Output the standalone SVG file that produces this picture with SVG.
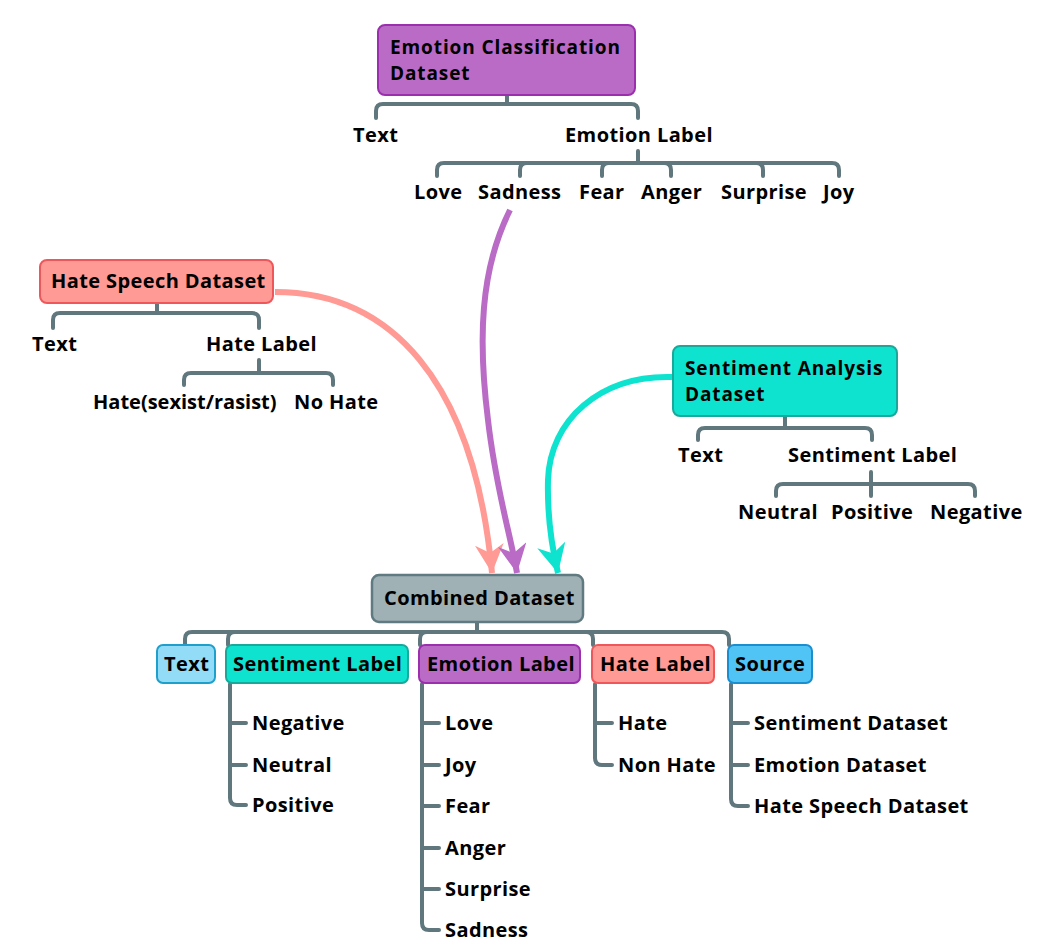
<svg xmlns="http://www.w3.org/2000/svg" width="1043" height="941" viewBox="0 0 1043 941">
<defs>
<style>
text{font-family:"Open Sans","DejaVu Sans",sans-serif;font-weight:700;font-size:20px;letter-spacing:0.4px;fill:#000}
text.title{font-size:19px;letter-spacing:0.9px}
.br{fill:none;stroke:#5f777d;stroke-width:4;stroke-linecap:round;stroke-linejoin:round}
.arr{fill:none;stroke-width:6}
.purple{fill:#b96bc6;stroke:#9b2fae;stroke-width:2}
.pink{fill:#ff9a94;stroke:#f0575a;stroke-width:2}
.teal{fill:#0de3cf;stroke:#1aa89b;stroke-width:2}
.grey{fill:#9fb1b5;stroke:#5f7a80;stroke-width:2.5}
.lblue{fill:#93dcf7;stroke:#1e9fcc;stroke-width:2}
.blue{fill:#50c4f5;stroke:#1b8ed0;stroke-width:2}
</style>
<marker id="mPink" viewBox="0 0 10 10" refX="10" refY="5" markerWidth="4.8" markerHeight="4.8" markerUnits="strokeWidth" orient="auto"><path d="M0,0 L10,5 L0,10 L3,5 Z" fill="#ff9a94"/></marker>
<marker id="mPurple" viewBox="0 0 10 10" refX="10" refY="5" markerWidth="4.8" markerHeight="4.8" markerUnits="strokeWidth" orient="auto"><path d="M0,0 L10,5 L0,10 L3,5 Z" fill="#b96bc6"/></marker>
<marker id="mTeal" viewBox="0 0 10 10" refX="10" refY="5" markerWidth="4.8" markerHeight="4.8" markerUnits="strokeWidth" orient="auto"><path d="M0,0 L10,5 L0,10 L3,5 Z" fill="#0de3cf"/></marker>
</defs>

<g id="connectors">
<!-- emotion tree -->
<path class="br" d="M507,95 V104 M376,118 V111 Q376,104 383,104 H631 Q638,104 638,111 V118"/>
<path class="br" d="M638,151 V163 M437,176 V170 Q437,163 444,163 H832 Q839,163 839,170 V176 M520,176 V170 Q520,163 527,163 M602,176 V170 Q602,163 609,163 M671,176 V170 Q671,163 664,163 M763,176 V170 Q763,163 756,163"/>
<!-- hate tree -->
<path class="br" d="M157,303 V313 M53,328 V320 Q53,313 60,313 H252 Q259,313 259,320 V328"/>
<path class="br" d="M259,360 V373 M184,385 V380 Q184,373 191,373 H326 Q333,373 333,380 V385"/>
<!-- sentiment tree -->
<path class="br" d="M785,416 V428 M698,440 V435 Q698,428 705,428 H865 Q872,428 872,435 V440"/>
<path class="br" d="M871,472 V496 M776,496 V491 Q776,484 783,484 H968 Q975,484 975,491 V496"/>
<!-- combined tree -->
<path class="br" d="M477,622 V632 M185,645 V639 Q185,632 192,632 H722 Q729,632 729,639 V645 M228,645 V639 Q228,632 235,632 M420,645 V639 Q420,632 427,632 M593,645 V639 Q593,632 586,632"/>
<path class="br" d="M230,684 V798 Q230,805 237,805 H246 M230,723 H246 M230,765 H246"/>
<path class="br" d="M422,684 V923 Q422,930 429,930 H439 M422,723 H439 M422,765 H439 M422,806 H439 M422,848 H439 M422,889 H439"/>
<path class="br" d="M595,684 V758 Q595,765 602,765 H612 M595,723 H612"/>
<path class="br" d="M731,684 V799 Q731,806 738,806 H748 M731,723 H748 M731,765 H748"/>
<!-- arrows -->
<path class="arr" stroke="#ff9a94" marker-end="url(#mPink)" d="M275,292 C390,292 474,380 492,573"/>
<path class="arr" stroke="#b96bc6" marker-end="url(#mPurple)" d="M510,210 C480,270 478,340 488,420 C496,490 510,532 517,573"/>
<path class="arr" stroke="#0de3cf" marker-end="url(#mTeal)" d="M672,377 C600,375 550,420 548,480 C547,520 552,548 558,573"/>
</g>

<g id="emotion-dataset">
<rect class="purple" x="378" y="25" width="257" height="70" rx="7"/>
<text class="title" x="390" y="54">Emotion Classification<tspan x="390" dy="26">Dataset</tspan></text>
</g>
<g id="emotion-children">
<text x="353" y="142">Text</text>
<text x="565" y="142">Emotion Label</text>
<text x="414" y="199">Love</text>
<text x="478" y="199">Sadness</text>
<text x="579" y="199">Fear</text>
<text x="641" y="199">Anger</text>
<text x="721" y="199">Surprise</text>
<text x="823" y="199">Joy</text>
</g>

<g id="hate-dataset">
<rect class="pink" x="40" y="260" width="233" height="43" rx="7"/>
<text x="51" y="288">Hate Speech Dataset</text>
</g>
<g id="hate-children">
<text x="32" y="351">Text</text>
<text x="206" y="351">Hate Label</text>
<text x="93" y="409" style="letter-spacing:0">Hate(sexist/rasist)</text>
<text x="294" y="409">No Hate</text>
</g>

<g id="sentiment-dataset">
<rect class="teal" x="673" y="346" width="224" height="70" rx="7"/>
<text class="title" x="685" y="375">Sentiment Analysis<tspan x="685" dy="26">Dataset</tspan></text>
</g>
<g id="sentiment-children">
<text x="678" y="462">Text</text>
<text x="788" y="462">Sentiment Label</text>
<text x="738" y="519">Neutral</text>
<text x="831" y="519">Positive</text>
<text x="930" y="519">Negative</text>
</g>

<g id="combined-dataset">
<rect class="grey" x="372" y="575" width="211" height="47" rx="7"/>
<text x="384" y="605">Combined Dataset</text>
</g>

<g id="c-text">
<rect class="lblue" x="157" y="645" width="58" height="38" rx="6"/>
<text x="164" y="671">Text</text>
</g>
<g id="c-sentiment">
<rect class="teal" x="226" y="645" width="182" height="38" rx="6"/>
<text x="233" y="671">Sentiment Label</text>
<text x="252" y="730">Negative</text>
<text x="252" y="772">Neutral</text>
<text x="252" y="812">Positive</text>
</g>
<g id="c-emotion">
<rect class="purple" x="419" y="645" width="161" height="38" rx="6"/>
<text x="427" y="671">Emotion Label</text>
<text x="445" y="730">Love</text>
<text x="445" y="772">Joy</text>
<text x="445" y="813">Fear</text>
<text x="445" y="855">Anger</text>
<text x="445" y="896">Surprise</text>
<text x="445" y="937">Sadness</text>
</g>
<g id="c-hate">
<rect class="pink" x="592" y="645" width="122" height="38" rx="6"/>
<text x="600" y="671">Hate Label</text>
<text x="618" y="730">Hate</text>
<text x="618" y="772">Non Hate</text>
</g>
<g id="c-source">
<rect class="blue" x="728" y="645" width="84" height="38" rx="6"/>
<text x="735" y="671">Source</text>
<text x="754" y="730">Sentiment Dataset</text>
<text x="754" y="772">Emotion Dataset</text>
<text x="754" y="813">Hate Speech Dataset</text>
</g>
</svg>
